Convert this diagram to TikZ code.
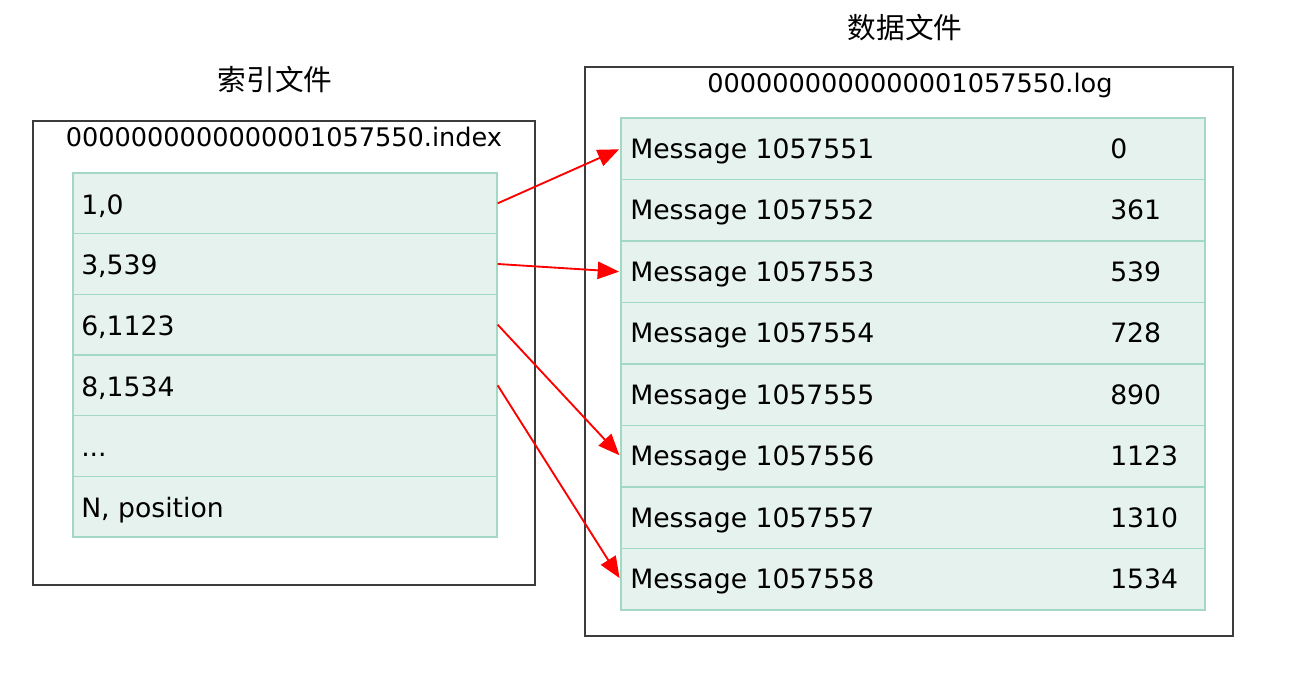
\documentclass[tikz,border=0pt]{standalone}
\usepackage{fontspec}
\setmainfont{DejaVu Sans}
\newfontfamily\cjk{Noto Sans CJK SC}
\usetikzlibrary{arrows.meta}
\definecolor{rowfill}{HTML}{E6F2EE}
\definecolor{rowline}{HTML}{A3D8C4}
\definecolor{outline}{HTML}{3C3C3C}
\tikzset{
  outerbox/.style={draw=outline, line width=1.5pt, fill=white, inner sep=0pt},
  lrow/.style={draw=rowline, fill=rowfill, line width=1pt, minimum width=318pt, minimum height=45.5pt, inner sep=0pt},
  rrow/.style={draw=rowline, fill=rowfill, line width=1pt, minimum width=438pt, minimum height=46.125pt, inner sep=0pt},
  txt/.style={font=\fontsize{20pt}{24pt}\selectfont, inner sep=0pt, anchor=west, text height=14.6pt, text depth=0pt},
  ttl/.style={font=\fontsize{19.2pt}{23pt}\selectfont, inner sep=0pt, text height=14pt, text depth=0pt},
  cjkttl/.style={font=\fontsize{21.5pt}{25pt}\cjk, inner sep=0pt},
  link/.style={draw=red, line width=1.4pt, -{Triangle[length=16pt,width=13pt]}, shorten >=1pt}
}
\begin{document}
\begin{tikzpicture}[x=0.75pt, y=-0.75pt]
\useasboundingbox (0,0) rectangle (1296,674);
% outer boxes
\node[outerbox, minimum width=376.5pt, minimum height=348pt] (lbox) at (284,353) {};
\node[outerbox, minimum width=486pt, minimum height=426.75pt] (rbox) at (909,351.5) {};
% titles
\node[cjkttl] (ltitle) at (275,80) {索引文件};
\node[cjkttl] (rtitle) at (905,28) {数据文件};
\node[ttl] (lname) at (284,137) {0000000000000001057550.index};
\node[ttl] (rname) at (910,83) {0000000000000001057550.log};
% left rows
\foreach \i/\t in {1/{1,0},2/{3,539},3/{6,1123},4/{8,1534},5/{...},6/{N, position}} {
  \node[lrow] (l\i) at (285,{173+60.667*(\i-0.5)}) {};
  \node[txt] (lt\i) at (81,{173+60.667*(\i-0.5)+1}) {\t};
}
% right rows
\foreach \i/\m/\n in {1/1057551/0,2/1057552/361,3/1057553/539,4/1057554/728,5/1057555/890,6/1057556/1123,7/1057557/1310,8/1057558/1534} {
  \node[rrow] (r\i) at (913,{118+61.5*(\i-0.5)}) {};
  \node[txt] (rm\i) at (630,{118+61.5*(\i-0.5)}) {Message \m};
  \node[txt] (rn\i) at (1110,{118+61.5*(\i-0.5)}) {\n};
}
% links
\draw[link] (l1.east) -- (r1.west);
\draw[link] (l2.east) -- (r3.west);
\draw[link] (l3.east) -- (r6.west);
\draw[link] (l4.east) -- (r8.west);
\end{tikzpicture}
\end{document}
